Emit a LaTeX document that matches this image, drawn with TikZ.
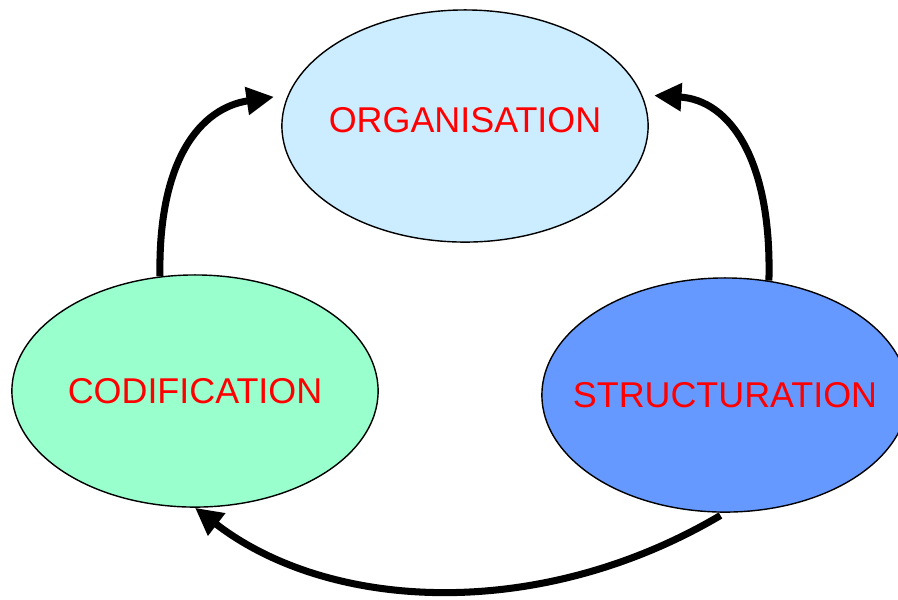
\documentclass[tikz,border=0pt]{standalone}
\usepackage{fontspec}
\setmainfont{Liberation Sans}
\usetikzlibrary{shapes.geometric,arrows.meta}
\definecolor{orgblue}{HTML}{CCECFF}
\definecolor{codgreen}{HTML}{99FFCC}
\definecolor{strblue}{HTML}{6699FF}

\begin{document}
\begin{tikzpicture}[x=0.01cm,y=-0.01cm,
  bubble/.style={ellipse,draw=black,line width=0.4pt,inner sep=0pt,
    minimum width=3.66cm,minimum height=2.32cm,
    text=red,font=\fontsize{10.2}{12}\selectfont},
  flow/.style={line width=2pt,-{Triangle[length=7.8pt,width=7.6pt]}}]
\useasboundingbox (0,0) rectangle (898,599);
\node[bubble,fill=orgblue] (org) at (465,126) {\makebox[0pt]{\raisebox{3.5pt}{ORGANISATION}}};
\node[bubble,fill=codgreen] (cod) at (195,391) {\makebox[0pt]{CODIFICATION}};
\node[bubble,fill=strblue,minimum height=2.34cm] (str) at (725,395) {\makebox[0pt]{STRUCTURATION}};
\draw[flow,shorten >=4pt] (cod.107) .. controls (158,160) and (200,108) .. (org.170);
\draw[flow,shorten >=3.4pt] (str.69) .. controls (772,160) and (730,100) .. (org.10);
\draw[flow,shorten <=1.5pt] (str.south) .. controls (540,622) and (330,612) .. (cod.south);
\end{tikzpicture}
\end{document}
